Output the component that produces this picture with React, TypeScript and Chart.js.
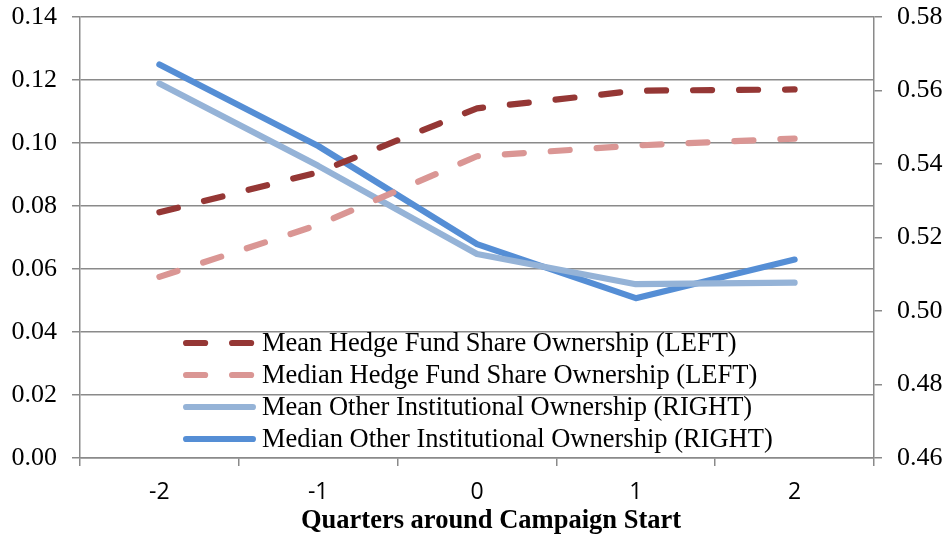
import { useEffect, useRef } from "react";
import { Chart, registerables } from "chart.js";

Chart.register(...registerables);

// ---- data ----
const quarters = ["-2", "-1", "0", "1", "2"];
const meanHedgeFund = [0.078, 0.0907, 0.111, 0.1166, 0.117];
const medianHedgeFund = [0.0575, 0.074, 0.0958, 0.0992, 0.1014];
const meanOtherInst = [0.5619, 0.5395, 0.5155, 0.5073, 0.5077];
const medianOtherInst = [0.5671, 0.5449, 0.5182, 0.5035, 0.514];
const leftTicks = [0, 0.02, 0.04, 0.06, 0.08, 0.1, 0.12, 0.14];
const rightTicks = [0.46, 0.48, 0.5, 0.52, 0.54, 0.56, 0.58];
const seriesLabels = [
  "Mean Hedge Fund Share Ownership (LEFT)",
  "Median Hedge Fund Share Ownership (LEFT)",
  "Mean Other Institutional Ownership (RIGHT)",
  "Median Other Institutional Ownership (RIGHT)",
];
const xTitle = "Quarters around Campaign Start";

// ---- styles ----
const colors = ["#953735", "#DA9694", "#95B3D7", "#558ED5"];
const DASH = [19, 27];
const LW = 6.2;
const GRID = "#8a8a8a";
const SERIF = "'Liberation Serif', 'Times New Roman', serif";

const overlayPlugin = {
  id: "overlay",
  afterDraw(chart: any) {
    const { ctx, chartArea } = chart;
    ctx.save();
    // legend inside plot area
    const x0 = chartArea.left + 103;
    const x1 = x0 + 73;
    const rowY0 = chartArea.bottom - 115;
    chart.data.datasets.forEach((ds: any, i: number) => {
      const y = rowY0 + i * 32;
      ctx.beginPath();
      ctx.strokeStyle = ds.borderColor;
      ctx.lineWidth = ds.borderWidth;
      ctx.lineCap = "round";
      ctx.setLineDash(ds.borderDash || []);
      ctx.lineDashOffset = 0;
      ctx.moveTo(x0 + ds.borderWidth / 2, y);
      ctx.lineTo(x1 - ds.borderWidth / 2, y);
      ctx.stroke();
      ctx.setLineDash([]);
      ctx.fillStyle = "#000";
      ctx.font = `26.5px ${SERIF}`;
      ctx.textBaseline = "middle";
      ctx.textAlign = "left";
      ctx.fillText(ds.label, x1 + 6, y + 1);
    });
    // x axis title
    ctx.font = `bold 26.5px ${SERIF}`;
    ctx.textAlign = "center";
    ctx.textBaseline = "alphabetic";
    ctx.fillStyle = "#000";
    ctx.fillText(xTitle, (chartArea.left + chartArea.right) / 2 + 14, 528);
    ctx.restore();
  },
};

export default function App() {
  const ref = useRef<HTMLCanvasElement | null>(null);

  useEffect(() => {
    if (!ref.current) return;
    const mk = (label: string, data: number[], color: string, dashed: boolean, axis: string) => ({
      label,
      data,
      borderColor: color,
      backgroundColor: color,
      borderWidth: LW,
      borderDash: dashed ? DASH : [],
      borderCapStyle: "round",
      borderJoinStyle: "round",
      pointRadius: 0,
      pointHoverRadius: 0,
      tension: 0,
      fill: false,
      yAxisID: axis,
    });
    const fitY = (w: number) => (s: any) => {
      s.width = w;
      s.paddingTop = 0;
      s.paddingBottom = 0;
    };
    const chart = new Chart(ref.current, {
      type: "line",
      data: {
        labels: quarters,
        datasets: [
          mk(seriesLabels[0], meanHedgeFund, colors[0], true, "y"),
          mk(seriesLabels[1], medianHedgeFund, colors[1], true, "y"),
          mk(seriesLabels[2], meanOtherInst, colors[2], false, "y2"),
          mk(seriesLabels[3], medianOtherInst, colors[3], false, "y2"),
        ] as any,
      },
      options: {
        animation: false,
        responsive: false,
        maintainAspectRatio: false,
        layout: { autoPadding: false, padding: { top: 17, left: 0, right: 0, bottom: 0 } },
        plugins: {
          legend: { display: false },
          tooltip: { enabled: false },
          title: { display: false },
        },
        scales: {
          x: {
            type: "category",
            offset: true,
            grid: {
              offset: true,
              drawOnChartArea: false,
              drawTicks: true,
              tickLength: 8,
              color: GRID,
              lineWidth: 1.5,
            },
            border: { display: true, color: GRID, width: 1.5 },
            ticks: {
              color: "#000",
              padding: 13,
              font: { family: "'Open Sans', sans-serif", size: 23 },
            },
            afterFit: (s: any) => {
              s.height = 77;
              s.paddingLeft = 0;
              s.paddingRight = 0;
            },
          },
          y: {
            position: "left",
            min: 0,
            max: 0.14,
            afterBuildTicks: (s: any) => {
              s.ticks = leftTicks.map((v) => ({ value: v }));
            },
            grid: {
              drawOnChartArea: true,
              drawTicks: true,
              tickLength: 8,
              color: GRID,
              lineWidth: 1.5,
            },
            border: { display: true, color: GRID, width: 1.5 },
            ticks: {
              color: "#000",
              padding: 15,
              font: { family: SERIF, size: 26 },
              callback: (v: any) => Number(v).toFixed(2),
            },
            afterFit: fitY(80),
          },
          y2: {
            position: "right",
            min: 0.46,
            max: 0.58,
            afterBuildTicks: (s: any) => {
              s.ticks = rightTicks.map((v) => ({ value: v }));
            },
            grid: {
              drawOnChartArea: false,
              drawTicks: true,
              tickLength: 8,
              color: GRID,
              lineWidth: 1.5,
            },
            border: { display: true, color: GRID, width: 1.5 },
            ticks: {
              color: "#000",
              padding: 15,
              font: { family: SERIF, size: 26 },
              callback: (v: any) => Number(v).toFixed(2),
            },
            afterFit: fitY(74),
          },
        },
      } as any,
      plugins: [overlayPlugin],
    });
    return () => chart.destroy();
  }, []);

  return (
    <div style={{ position: "fixed", left: 0, top: 0, width: 948, height: 535, background: "#fff" }}>
      <canvas ref={ref} width={948} height={535} style={{ display: "block", width: 948, height: 535 }} />
    </div>
  );
}
